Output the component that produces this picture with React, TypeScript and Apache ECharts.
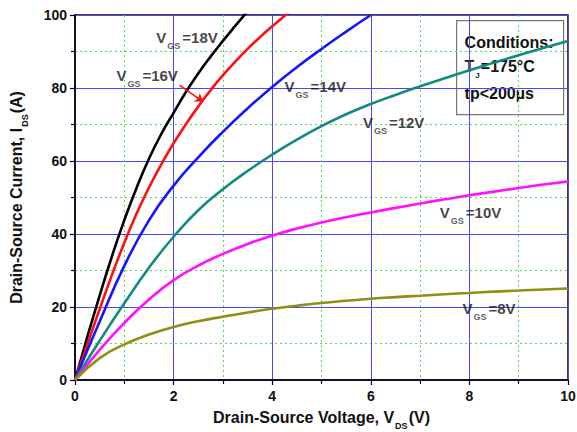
import React, { useEffect, useRef } from 'react';
import * as echarts from 'echarts';

const xTicks = [0, 2, 4, 6, 8, 10];
const yTicks = [0, 20, 40, 60, 80, 100];

const vgs18: number[][] = [[0, 0], [0.25, 11.8], [0.5, 23.1], [0.75, 33.9], [1.0, 43.8], [1.25, 52.7], [1.5, 60.6], [1.75, 67.4], [2.0, 73.2], [2.25, 78.9], [2.5, 84], [2.75, 88.6], [3.0, 92.9], [3.25, 97], [3.5, 101]];
const vgs16: number[][] = [[0, 0], [0.25, 9.75], [0.5, 19.4], [0.75, 28.8], [1.0, 37.6], [1.25, 45.6], [1.5, 52.7], [1.75, 59.1], [2.0, 64.85], [2.25, 70.1], [2.5, 74.9], [2.75, 79.4], [3.0, 83.5], [3.25, 87.2], [3.5, 90.7], [3.75, 93.9], [4.0, 96.9], [4.25, 99.7], [4.5, 102.5]];
const vgs14: number[][] = [[0, 0], [0.5, 16], [1.0, 31.25], [1.5, 43.75], [2.0, 53.25], [2.5, 61], [3.0, 68], [3.5, 74.4], [4.0, 80.3], [4.5, 85.7], [5.0, 90.7], [5.5, 95.45], [6.0, 100]];
const vgs12: number[][] = [[0, 0], [0.5, 10.75], [1.0, 21], [1.5, 30.75], [2.0, 39.25], [2.5, 46.5], [3.0, 52.25], [3.5, 57.25], [4.0, 61.75], [4.5, 65.85], [5.0, 69.55], [5.5, 72.8], [6.0, 75.6], [6.5, 78.1], [7.0, 80.45], [7.5, 82.7], [8.0, 84.85], [8.5, 86.95], [9.0, 89], [9.5, 90.95], [10, 92.85]];
const vgs10: number[][] = [[0, 0], [0.5, 8.25], [1.0, 15.65], [1.5, 22.05], [2.0, 27.35], [2.5, 31.35], [3.0, 34.55], [3.5, 37.25], [4.0, 39.55], [4.5, 41.5], [5.0, 43.15], [5.5, 44.6], [6.0, 45.9], [6.5, 47.15], [7.0, 48.35], [7.5, 49.5], [8.0, 50.6], [8.5, 51.6], [9.0, 52.6], [9.5, 53.55], [10, 54.4]];
const vgs8: number[][] = [[0, 0], [0.5, 6], [1.0, 9.75], [1.5, 12.45], [2.0, 14.55], [2.5, 16.1], [3.0, 17.35], [3.5, 18.5], [4.0, 19.5], [4.5, 20.35], [5.0, 21.1], [5.5, 21.7], [6.0, 22.25], [6.5, 22.7], [7.0, 23.1], [7.5, 23.5], [8.0, 23.85], [8.5, 24.2], [9.0, 24.5], [9.5, 24.8], [10, 25.05]];

const seriesData = [vgs18, vgs16, vgs14, vgs12, vgs10, vgs8];
const seriesNames = ['VGS=18V', 'VGS=16V', 'VGS=14V', 'VGS=12V', 'VGS=10V', 'VGS=8V'];
const seriesColors = ['#000000', '#ff1010', '#1414ff', '#128a82', '#ff10ff', '#8f8f12'];

const labelValues = ['18V', '16V', '14V', '12V', '10V', '8V'];
const labelAnchors: number[][] = [[1.65, 93.8], [0.84, 83.3], [4.25, 80.5], [5.84, 70.5], [7.4, 45.9], [7.86, 19.7]];

const arrowFrom = [2.12, 80.8];
const arrowTo = [2.6, 76.2];

const conditionLines = ['Conditions:', 'TJ=175°C', 'tp<200µs'];

const FONT = 'Liberation Sans, Arial, sans-serif';

export default function App() {
  const ref = useRef<HTMLDivElement>(null);
  useEffect(() => {
    if (!ref.current) return;
    const chart = echarts.init(ref.current, null, { renderer: 'svg' });
    const sub = { fontSize: 9, fontWeight: 'bold', fontFamily: FONT, color: '#333', padding: [17, 2, 0, 1] };
    const main = { fontSize: 15, fontWeight: 'bold', fontFamily: FONT, color: '#111' };
    const lineSeries: any[] = seriesData.map((d, i) => ({
      name: seriesNames[i],
      type: 'line',
      data: d,
      smooth: true,
      symbol: 'none',
      lineStyle: { color: seriesColors[i], width: 2.6 },
      z: 3,
      markLine: i === 1 ? {
        silent: true,
        symbol: ['none', 'arrow'],
        symbolSize: 8,
        label: { show: false },
        lineStyle: { color: '#ff1010', width: 1.5, type: 'solid' },
        data: [[{ coord: arrowFrom }, { coord: arrowTo }]],
      } : undefined,
    }));
    const labelSeries = {
      type: 'scatter',
      symbolSize: 0,
      silent: true,
      z: 5,
      data: labelAnchors.map((p, i) => ({
        value: p,
        label: { formatter: '{v|V}{s|GS}{v|=' + labelValues[i] + '}' },
      })),
      label: {
        show: true,
        position: 'right',
        distance: 0,
        rich: { v: main, s: sub },
      },
    };
    const rTitle = { fontSize: 16, fontWeight: 'bold', fontFamily: FONT, color: '#111' };
    const sTitle = { fontSize: 9, fontWeight: 'bold', fontFamily: FONT, color: '#111', padding: [17, 1, 0, 1] };
    chart.setOption({
      animation: false,
      backgroundColor: '#ffffff',
      grid: { left: 75, right: 9, top: 15, bottom: 52, show: true, borderColor: '#000', borderWidth: 1.5, backgroundColor: 'transparent', outerBoundsMode: 'none', containLabel: false },
      xAxis: {
        type: 'value', min: xTicks[0], max: xTicks[xTicks.length - 1], interval: xTicks[1] - xTicks[0],
        name: '{a|Drain-Source Voltage, V}{s|DS}{a|(V)}', nameLocation: 'middle', nameGap: 24,
        nameTextStyle: { rich: { a: rTitle, s: sTitle } },
        axisLine: { show: true, onZero: false, lineStyle: { color: '#000', width: 1.5 } },
        axisTick: { show: true, inside: false, length: 5, lineStyle: { color: '#000', width: 1.2 } },
        minorTick: { show: true, splitNumber: 2, length: 4, lineStyle: { color: '#000', width: 1.2 } },
        axisLabel: { color: '#111', fontSize: 14, fontWeight: 'bold', fontFamily: FONT, margin: 9 },
        splitLine: { show: true, lineStyle: { color: '#4848ff', width: 1 } },
        minorSplitLine: { show: true, lineStyle: { color: '#55d655', width: 1, type: [2, 3] } },
      },
      yAxis: {
        type: 'value', min: yTicks[0], max: yTicks[yTicks.length - 1], interval: yTicks[1] - yTicks[0],
        name: '{a|Drain-Source Current, I}{s|DS}{a|(A)}', nameLocation: 'middle', nameGap: 46,
        nameTextStyle: { rich: { a: rTitle, s: sTitle } },
        axisLine: { show: true, onZero: false, lineStyle: { color: '#000', width: 1.5 } },
        axisTick: { show: true, inside: false, length: 5, lineStyle: { color: '#000', width: 1.2 } },
        minorTick: { show: true, splitNumber: 2, length: 4, lineStyle: { color: '#000', width: 1.2 } },
        axisLabel: { color: '#111', fontSize: 14, fontWeight: 'bold', fontFamily: FONT, margin: 8 },
        splitLine: { show: true, lineStyle: { color: '#4848ff', width: 1 } },
        minorSplitLine: { show: true, lineStyle: { color: '#55d655', width: 1, type: [2, 3] } },
      },
      series: [...lineSeries, labelSeries],
      graphic: [
        {
          type: 'group', left: 456, top: 20, z: 100,
          children: [
            { type: 'rect', shape: { x: 0, y: 0, width: 107, height: 94 }, style: { fill: '#fff', stroke: '#777', lineWidth: 1.2 } },
            { type: 'text', x: 8, y: 22, style: { text: conditionLines[0], font: 'bold 16px ' + FONT, fill: '#111', verticalAlign: 'middle' } },
            {
              type: 'text', x: 8, y: 46,
              style: {
                text: '{a|T}{s|J}{a|=175°C}', verticalAlign: 'middle',
                rich: { a: { fontSize: 16, fontWeight: 'bold', fontFamily: FONT, fill: '#111' }, s: { fontSize: 8, fontWeight: 'bold', fontFamily: FONT, fill: '#111', padding: [17, 1, 0, 1] } },
              },
            },
            { type: 'text', x: 8, y: 73, style: { text: conditionLines[2], font: 'bold 16px ' + FONT, fill: '#111', verticalAlign: 'middle' } },
          ],
        },
      ],
    });
    return () => chart.dispose();
  }, []);
  return <div ref={ref} style={{ width: 577, height: 432, position: 'absolute', left: 0, top: 0 }} />;
}
